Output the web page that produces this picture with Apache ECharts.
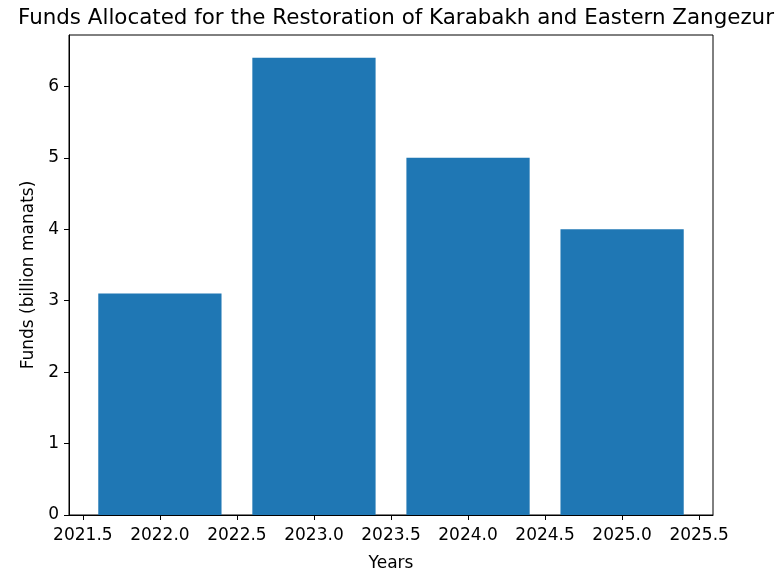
<!DOCTYPE html>
<html><head><meta charset="utf-8">
<script src="https://cdn.jsdelivr.net/npm/echarts@6/dist/echarts.min.js"></script>
<style>html,body{margin:0;padding:0;background:#fff}#c{width:776px;height:570px}</style>
</head><body><div id="c"></div>
<script>
const years = [2022, 2023, 2024, 2025];
const funds = [3.1, 6.4, 5.0, 4.0];
const xTicks = [2021.5, 2022.0, 2022.5, 2023.0, 2023.5, 2024.0, 2024.5, 2025.0, 2025.5];
const yTicks = [0, 1, 2, 3, 4, 5, 6];
const barWidth = 0.8;

const chart = echarts.init(document.getElementById('c'), null, {renderer: 'canvas'});
const font = 'DejaVu Sans';
chart.setOption({
  animation: false,
  title: {
    text: 'Funds Allocated for the Restoration of Karabakh and Eastern Zangezur',
    left: 391, top: 3, textAlign: 'center',
    textStyle: {fontFamily: font, fontSize: 21.4, fontWeight: 'normal', color: '#000'}
  },
  grid: {left: 69, right: 63, top: 35, bottom: 55, outerBoundsMode: 'none', containLabel: false,
    show: true, borderColor: '#000', borderWidth: 1, backgroundColor: 'transparent'},
  xAxis: {
    type: 'value', min: 2021.41, max: 2025.59,
    name: 'Years', nameLocation: 'middle', nameGap: 40,
    nameTextStyle: {fontFamily: font, fontSize: 17, color: '#000'},
    axisLine: {show: true, onZero: false, lineStyle: {color: '#000', width: 1}},
    axisTick: {show: true, length: 5, lineStyle: {color: '#000'}, customValues: xTicks},
    axisLabel: {fontFamily: font, fontSize: 17, color: '#000', margin: 12,
      customValues: xTicks, formatter: v => v.toFixed(1)},
    splitLine: {show: false}
  },
  yAxis: {
    type: 'value', min: 0, max: 6.72,
    name: 'Funds (billion manats)', nameLocation: 'middle', nameGap: 31,
    nameTextStyle: {fontFamily: font, fontSize: 17, color: '#000'},
    axisLine: {show: true, lineStyle: {color: '#000', width: 1}},
    axisTick: {show: true, length: 5, lineStyle: {color: '#000'}, customValues: yTicks},
    axisLabel: {fontFamily: font, fontSize: 17, color: '#000', margin: 10,
      customValues: yTicks, formatter: v => String(v)},
    splitLine: {show: false}
  },
  series: [{
    type: 'custom',
    data: years.map((y, i) => [y, funds[i]]),
    encode: {x: 0, y: 1},
    renderItem: function (params, api) {
      const x = api.value(0), v = api.value(1);
      const p0 = api.coord([x - barWidth / 2, v]);
      const p1 = api.coord([x + barWidth / 2, 0]);
      return {
        type: 'rect',
        shape: {x: p0[0], y: p0[1], width: p1[0] - p0[0], height: p1[1] - p0[1]},
        style: {fill: '#1f77b4'}
      };
    }
  }]
});
</script></body></html>
